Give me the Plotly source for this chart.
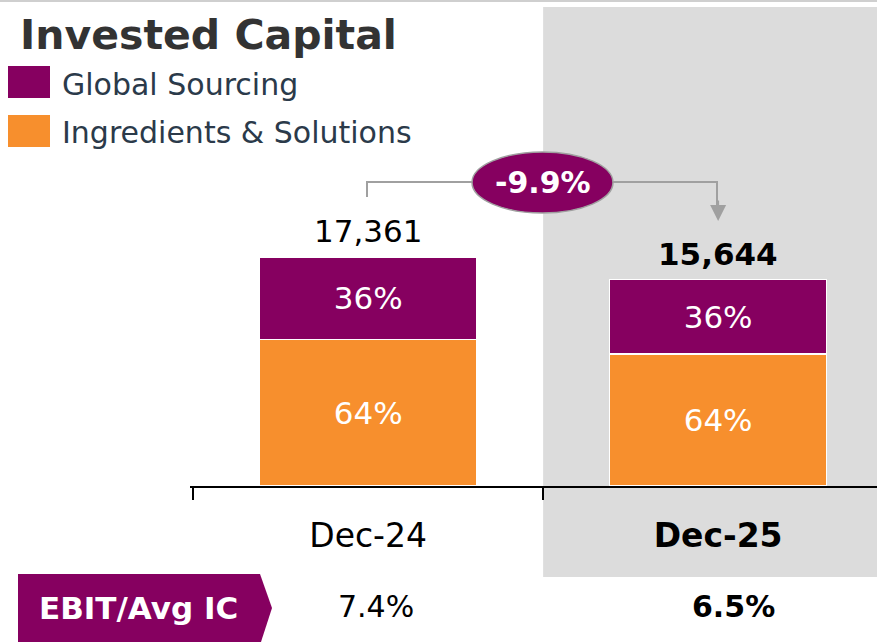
import plotly.graph_objects as go

W, H = 877, 642

periods = ["Dec-24", "Dec-25"]
period_labels = ["Dec-24", "<b>Dec-25</b>"]
global_sourcing = [6250, 5632]
ingredients_solutions = [11111, 10012]
gs_share = ["36%", "36%"]
is_share = ["64%", "64%"]
totals = [17361, 15644]
total_labels = ["17,361", "<b>15,644</b>"]
change_label = "-9.9%"
ebit_label = "EBIT/Avg IC"
ebit_values = ["7.4%", "<b>6.5%</b>"]

PURPLE = "#860060"
ORANGE = "#F78F2D"
GREY_BG = "#DCDCDC"
FONT = "DejaVu Sans"


def px(x):
    return x / W


def py(y):
    return 1 - y / H


fig = go.Figure()
fig.add_trace(go.Bar(
    x=periods, y=ingredients_solutions, name="Ingredients & Solutions",
    marker=dict(color=ORANGE, line=dict(color="white", width=1.5)),
    text=is_share, textposition="inside", insidetextanchor="middle",
    textfont=dict(family=FONT, size=31, color="white"),
    width=0.62, showlegend=False, hoverinfo="skip"))
fig.add_trace(go.Bar(
    x=periods, y=global_sourcing, name="Global Sourcing",
    marker=dict(color=PURPLE, line=dict(color="white", width=1.5)),
    text=gs_share, textposition="inside", insidetextanchor="middle",
    textfont=dict(family=FONT, size=31, color="white"),
    width=0.62, showlegend=False, hoverinfo="skip"))

ymax = totals[0] * (486 - 100) / (486 - 257)

fig.update_layout(
    width=W, height=H, barmode="stack",
    margin=dict(l=0, r=0, t=0, b=0),
    paper_bgcolor="white", plot_bgcolor="rgba(0,0,0,0)",
    font=dict(family=FONT, color="black"),
    uniformtext=dict(minsize=8, mode="show"),
    xaxis=dict(domain=[px(190), 1], range=[-0.509, 1.454], type="category",
               tickmode="array", tickvals=periods, ticktext=period_labels,
               tickson="boundaries", ticks="outside", ticklen=12, tickwidth=1.5,
               tickcolor="black", showline=True, linecolor="black", linewidth=1.5,
               showgrid=False, zeroline=False, ticklabelstandoff=20,
               tickfont=dict(family=FONT, size=33, color="black")),
    yaxis=dict(domain=[py(486), py(100)], range=[0, ymax], visible=False,
               showgrid=False, zeroline=False),
)

shapes = []
shapes.append(dict(type="rect", xref="x", yref="paper", x0=0.5, x1=1.454,
                   y0=py(577), y1=py(7), fillcolor=GREY_BG, line_width=0, layer="below"))
shapes.append(dict(type="line", xref="paper", yref="paper", x0=0, x1=1, y0=py(1), y1=py(1),
                   line=dict(color="#CFCFCF", width=2)))
shapes.append(dict(type="rect", xref="paper", yref="paper", x0=px(8), x1=px(50),
                   y0=py(98), y1=py(66), fillcolor=PURPLE, line_width=0))
shapes.append(dict(type="rect", xref="paper", yref="paper", x0=px(8), x1=px(50),
                   y0=py(147), y1=py(115), fillcolor=ORANGE, line_width=0))
gline = dict(color="#A0A0A0", width=2)
shapes.append(dict(type="path", xref="paper", yref="paper",
                   path=f"M {px(367)},{py(197)} L {px(367)},{py(182)} L {px(717)},{py(182)} L {px(717)},{py(205)}",
                   line=gline))
shapes.append(dict(type="circle", xref="paper", yref="paper", x0=px(472), x1=px(613),
                   y0=py(213), y1=py(152), fillcolor=PURPLE, line=dict(color="#A0A0A0", width=1.5)))
shapes.append(dict(type="path", xref="paper", yref="paper",
                   path=f"M {px(18)},{py(574)} L {px(260)},{py(574)} L {px(272)},{py(608)} L {px(260)},{py(645)} L {px(18)},{py(645)} Z",
                   fillcolor=PURPLE, line_width=0))
fig.update_layout(shapes=shapes)

ann = []
ann.append(dict(text="<b>Invested Capital</b>", xref="paper", yref="paper", x=px(18), y=py(35),
                xanchor="left", yanchor="middle", showarrow=False,
                font=dict(family=FONT, size=41, color="#333333")))
ann.append(dict(text="Global Sourcing", xref="paper", yref="paper", x=px(60), y=py(85),
                xanchor="left", yanchor="middle", showarrow=False,
                font=dict(family=FONT, size=30, color="#2B3A4A")))
ann.append(dict(text="Ingredients & Solutions", xref="paper", yref="paper", x=px(60), y=py(133),
                xanchor="left", yanchor="middle", showarrow=False,
                font=dict(family=FONT, size=30, color="#2B3A4A")))
for p, t, lab in zip(periods, totals, total_labels):
    ann.append(dict(text=lab, x=p, y=t, xref="x", yref="y", yanchor="bottom", yshift=6,
                    showarrow=False, font=dict(family=FONT, size=31, color="black")))
ann.append(dict(text="", x=periods[1], y=py(221), xref="x", yref="paper",
                ax=0, ay=-22, showarrow=True, arrowhead=2, arrowsize=1.6,
                arrowwidth=2, arrowcolor="#A0A0A0"))
ann.append(dict(text=f"<b>{change_label}</b>", xref="paper", yref="paper", x=px(543), y=py(183),
                xanchor="center", yanchor="middle", showarrow=False,
                font=dict(family=FONT, size=30, color="white")))
ann.append(dict(text=f"<b>{ebit_label}</b>", xref="paper", yref="paper", x=px(138), y=py(608),
                xanchor="center", yanchor="middle", showarrow=False,
                font=dict(family=FONT, size=31, color="white")))
for p, v, xs in zip(periods, ebit_values, [8, 15]):
    ann.append(dict(text=v, x=p, y=py(606), xref="x", yref="paper", xshift=xs,
                    yanchor="middle", showarrow=False,
                    font=dict(family=FONT, size=30, color="black")))
fig.update_layout(annotations=ann)

fig.write_html("out.html", config={"displayModeBar": False},
               post_script="document.body.style.margin='0';document.body.style.overflow='hidden';")
